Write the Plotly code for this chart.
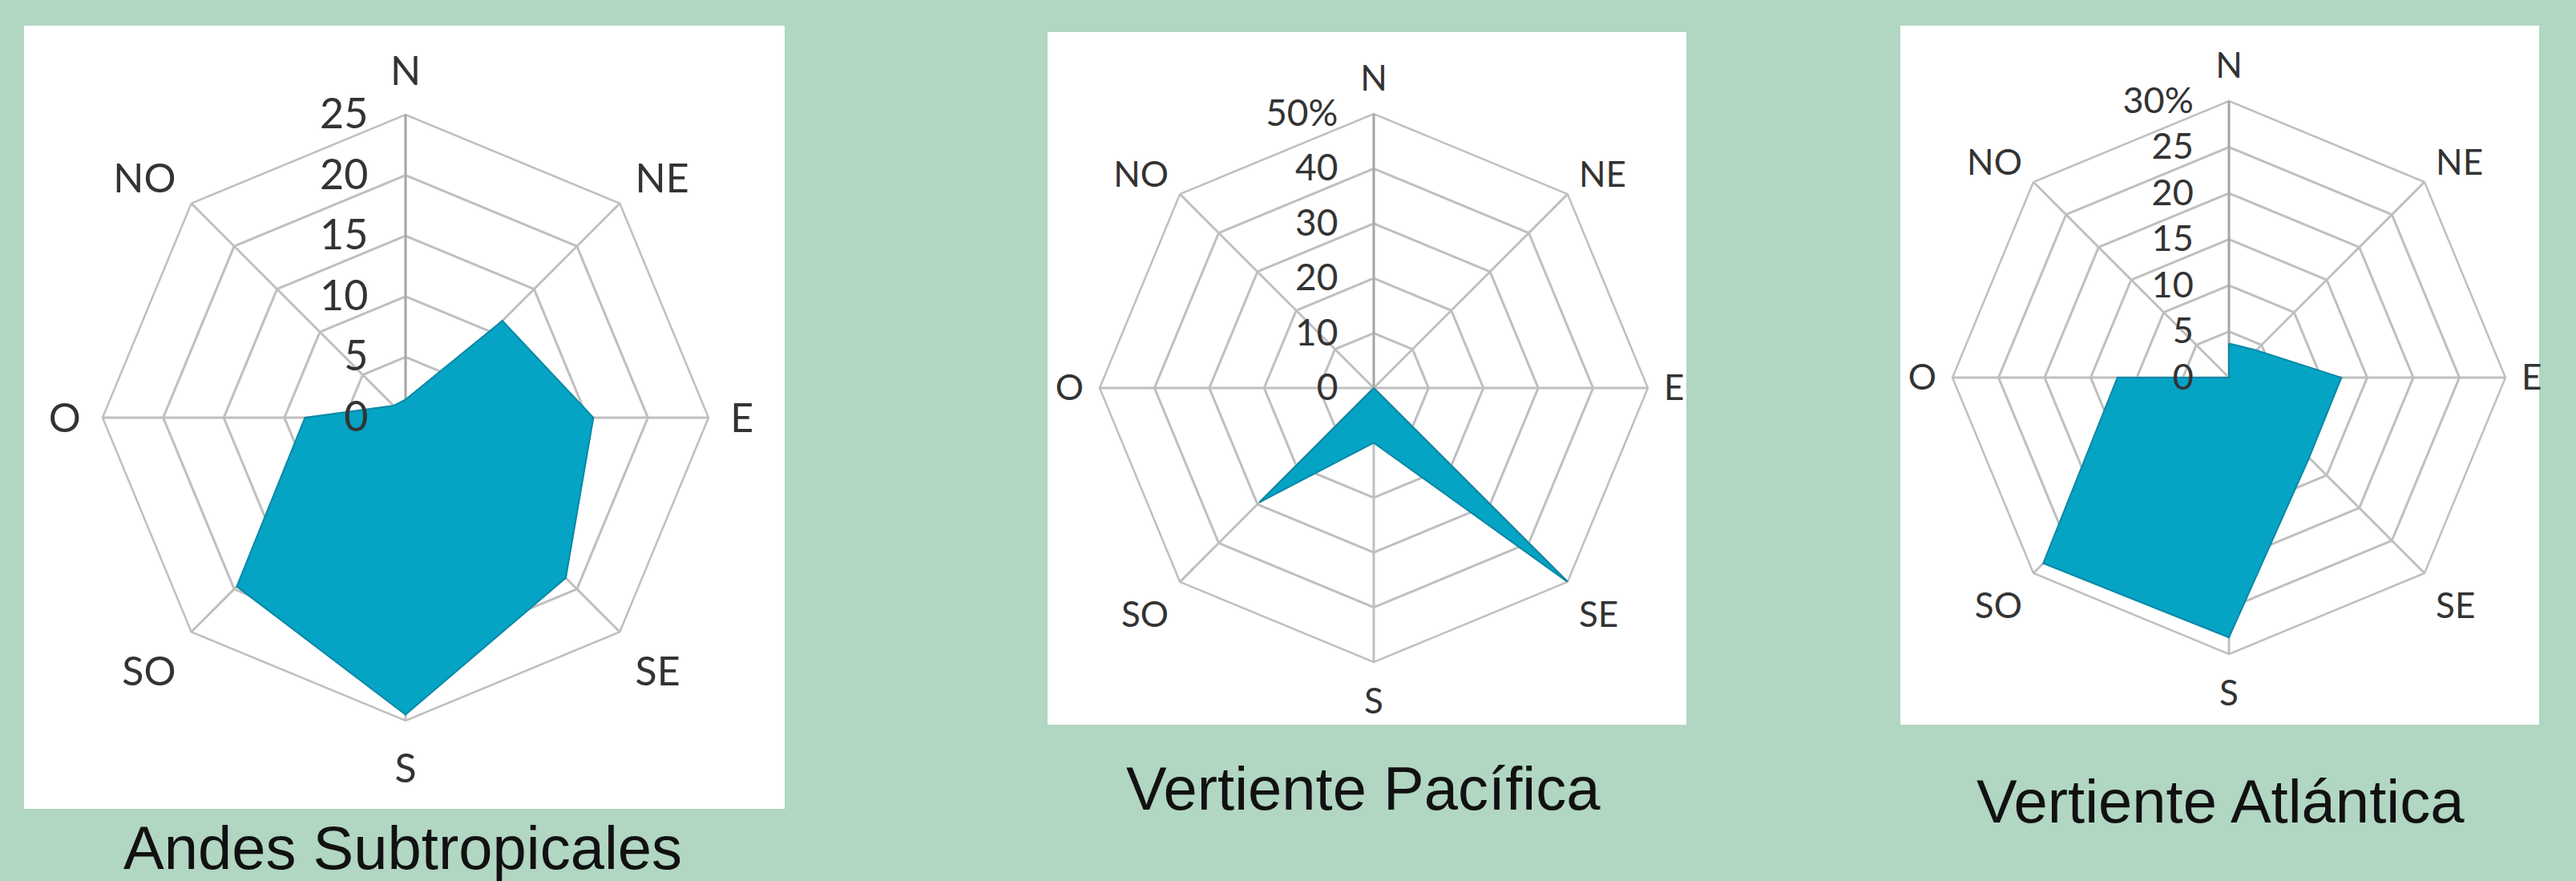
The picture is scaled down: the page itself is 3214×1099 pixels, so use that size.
import plotly.graph_objects as go

W, H = 3214, 1099

# ---------------- data ----------------
directions = ["N", "NE", "E", "SE", "S", "SO", "O", "NO"]

andes_values = [1.5, 11.3, 15.5, 18.7, 24.5, 19.7, 8.3, 1.4]
pacifica_values = [0, 0, 0, 50, 10, 29.5, 0, 0]
atlantica_values = [3.7, 4.2, 12.2, 12.3, 28.2, 28.5, 12.1, 0]

andes_ticks = [0, 5, 10, 15, 20, 25]
andes_ticklabels = ["0", "5", "10", "15", "20", "25"]
pacifica_ticks = [0, 10, 20, 30, 40, 50]
pacifica_ticklabels = ["0", "10", "20", "30", "40", "50%"]
atlantica_ticks = [0, 5, 10, 15, 20, 25, 30]
atlantica_ticklabels = ["0", "5", "10", "15", "20", "25", "30%"]

titles = ["Andes Subtropicales", "Vertiente Pacífica", "Vertiente Atlántica"]

# ---------------- styling / geometry ----------------
BG = "#b1d6c2"
GRID = "#bfbfbf"
AXIS = "#a5a5a5"
TXT = "#333333"
FILL = "#05a3c4"
EDGE = "#0a88a5"

panels = [
    dict(values=andes_values, ticks=andes_ticks, labels=andes_ticklabels,
         box=(30, 32, 979, 1009), center=(506, 521), R=378,
         cat_size=50, tick_size=52, cat_pad=16, title_xy=(502, 1057)),
    dict(values=pacifica_values, ticks=pacifica_ticks, labels=pacifica_ticklabels,
         box=(1307, 40, 2104, 904), center=(1714, 484), R=342,
         cat_size=44, tick_size=46, cat_pad=10, title_xy=(1701, 983)),
    dict(values=atlantica_values, ticks=atlantica_ticks, labels=atlantica_ticklabels,
         box=(2371, 32, 3168, 904), center=(2781, 471), R=345,
         cat_size=44, tick_size=45, cat_pad=10, title_xy=(2770, 999)),
]


def px_x(x):
    return x / W


def px_y(y):
    return 1 - y / H


fig = go.Figure()
layout = dict(
    width=W, height=H,
    paper_bgcolor=BG, plot_bgcolor=BG,
    margin=dict(l=0, r=0, t=0, b=0),
    showlegend=False,
    shapes=[], annotations=[],
)

for i, p in enumerate(panels):
    main = "polar" if i == 0 else f"polar{2 * i + 1}"
    over = f"polar{2 * i + 2}"
    cx, cy = p["center"]
    R = p["R"]
    dom = dict(x=[px_x(cx - R), px_x(cx + R)], y=[px_y(cy + R), px_y(cy - R)])
    rmax = p["ticks"][-1]

    vals = p["values"] + [p["values"][0]]
    thetas = directions + [directions[0]]

    fig.add_trace(go.Scatterpolar(
        r=vals, theta=thetas, mode="lines", fill="toself",
        fillcolor=FILL, line=dict(color=EDGE, width=2),
        subplot=main, hoverinfo="skip"))
    fig.add_trace(go.Scatterpolar(
        r=vals, theta=thetas, mode="lines", line=dict(width=0),
        opacity=0, subplot=over, hoverinfo="skip"))

    layout[main] = dict(
        domain=dom, bgcolor="rgba(0,0,0,0)", gridshape="linear",
        angularaxis=dict(
            type="category", categoryarray=directions,
            rotation=90, direction="clockwise",
            showline=True, linecolor=GRID, linewidth=2.5,
            showgrid=True, gridcolor=GRID, gridwidth=2.5,
            ticks="outside", ticklen=p["cat_pad"], tickcolor="rgba(0,0,0,0)",
            tickfont=dict(family="Lato", size=p["cat_size"], color=TXT),
            layer="below traces"),
        radialaxis=dict(
            range=[0, rmax], tickvals=p["ticks"], showticklabels=False,
            showline=True, linecolor=AXIS, linewidth=2.5, angle=90,
            showgrid=True, gridcolor=GRID, gridwidth=2.5,
            ticks="", layer="below traces"),
    )
    layout[over] = dict(
        domain=dom, bgcolor="rgba(0,0,0,0)", gridshape="linear",
        angularaxis=dict(
            type="category", categoryarray=directions,
            rotation=90, direction="clockwise",
            showline=False, showgrid=False, showticklabels=False, ticks=""),
        radialaxis=dict(
            range=[0, rmax], tickvals=p["ticks"], ticktext=p["labels"],
            showline=False, showgrid=False, angle=90, tickangle=90,
            side="counterclockwise",
            ticks="outside", ticklen=28, tickcolor="rgba(0,0,0,0)",
            tickfont=dict(family="Lato", size=p["tick_size"], color=TXT)),
    )

    x0, y0, x1, y1 = p["box"]
    layout["shapes"].append(dict(
        type="rect", xref="paper", yref="paper", layer="below",
        x0=px_x(x0), x1=px_x(x1), y0=px_y(y1), y1=px_y(y0),
        fillcolor="white", line=dict(width=0)))

    tx, ty = p["title_xy"]
    layout["annotations"].append(dict(
        text=titles[i], xref="paper", yref="paper",
        x=px_x(tx), y=px_y(ty), xanchor="center", yanchor="middle",
        showarrow=False,
        font=dict(family="Liberation Sans, Arial", size=76, color="#111111")))

fig.update_layout(**layout)
fig.write_html("out.html")
